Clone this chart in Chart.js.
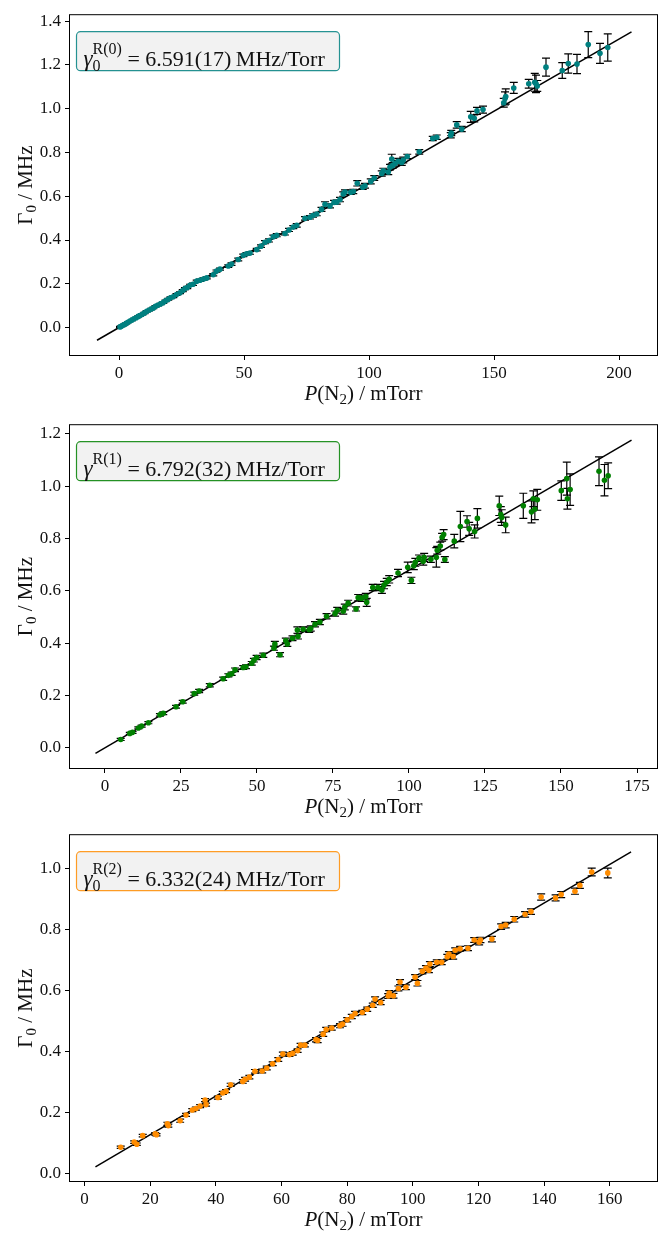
<!DOCTYPE html>
<html>
<head>
<meta charset="utf-8">
<script src="https://cdn.jsdelivr.net/npm/chart.js@4.4.1/dist/chart.umd.min.js"></script>
<style>
  body { margin: 0; background: #fff; }
  #wrap { position: relative; width: 662px; height: 1237px; }
  canvas { position: absolute; left: 0; }
</style>
</head>
<body>
<div id="wrap">
  <canvas id="r0" width="662" height="410" style="top:0"></canvas>
  <canvas id="r1" width="662" height="410" style="top:410px"></canvas>
  <canvas id="r2" width="662" height="417" style="top:820px"></canvas>
</div>
<script>
// R(0) line widths vs N2 pressure
const r0Pressure = [0.4, 0.9, 1.5, 2.2, 2.9, 3.6, 4.4, 5.2, 6.0, 6.9, 7.7, 8.4, 9.3, 10.2, 11.1, 12.0, 12.9, 13.7, 14.6, 15.5,
  16.6, 17.7, 18.6, 19.7, 20.6, 21.7, 23.0, 24.4, 25.5, 26.4, 27.3, 28.4, 29.6, 31.1, 32.4, 33.8, 35.1, 37.7, 39.0, 40.4,
  43.7, 45.0, 47.7, 49.7, 51.0, 52.4, 55.1, 56.8, 58.4, 60.0, 61.7, 63.1, 66.4, 68.0, 69.7, 71.1, 74.4, 76.4, 77.6, 79.1,
  81.0, 82.4, 84.4, 86.0, 87.1, 88.4, 89.7, 90.4, 92.7, 93.7, 95.3, 97.5, 98.4, 100.7, 102.1, 105.1, 105.7, 107.7, 108.4, 109.1,
  109.5, 110.5, 111.7, 113.1, 113.7, 115.3, 120.1, 125.5, 127.1, 132.7, 132.9, 135.1, 137.1, 140.7, 142.1, 143.2, 145.6, 153.9, 154.4, 154.7,
  157.9, 163.9, 166.3, 166.8, 167.3, 170.8, 177.3, 179.7, 183.2, 187.7, 192.4, 195.5];
const r0Width = [0.003, 0.006, 0.010, 0.014, 0.019, 0.024, 0.030, 0.034, 0.040, 0.045, 0.051, 0.055, 0.061, 0.067, 0.074, 0.079, 0.085, 0.089, 0.097, 0.102,
  0.108, 0.114, 0.122, 0.129, 0.136, 0.141, 0.151, 0.159, 0.169, 0.178, 0.183, 0.193, 0.198, 0.212, 0.216, 0.222, 0.227, 0.241, 0.258, 0.267,
  0.281, 0.290, 0.311, 0.330, 0.337, 0.341, 0.356, 0.372, 0.390, 0.398, 0.415, 0.422, 0.430, 0.446, 0.459, 0.467, 0.499, 0.504, 0.512, 0.519,
  0.540, 0.563, 0.556, 0.572, 0.573, 0.585, 0.610, 0.619, 0.618, 0.622, 0.659, 0.641, 0.648, 0.668, 0.683, 0.704, 0.716, 0.711, 0.733, 0.770,
  0.741, 0.751, 0.760, 0.754, 0.766, 0.782, 0.803, 0.864, 0.870, 0.879, 0.889, 0.926, 0.907, 0.963, 0.956, 0.990, 0.996, 1.027, 1.047, 1.056,
  1.095, 1.114, 1.121, 1.114, 1.104, 1.190, 1.175, 1.207, 1.204, 1.293, 1.253, 1.280];
const r0Err = [0.002, 0.002, 0.002, 0.002, 0.002, 0.002, 0.002, 0.002, 0.002, 0.002, 0.002, 0.003, 0.003, 0.003, 0.003, 0.003, 0.003, 0.003, 0.003, 0.003,
  0.003, 0.004, 0.004, 0.004, 0.004, 0.004, 0.004, 0.004, 0.005, 0.005, 0.005, 0.005, 0.005, 0.005, 0.005, 0.005, 0.005, 0.005, 0.005, 0.005,
  0.006, 0.006, 0.006, 0.006, 0.006, 0.006, 0.006, 0.006, 0.007, 0.007, 0.007, 0.007, 0.007, 0.007, 0.007, 0.008, 0.008, 0.008, 0.008, 0.008,
  0.009, 0.012, 0.009, 0.009, 0.009, 0.010, 0.010, 0.010, 0.010, 0.010, 0.012, 0.010, 0.011, 0.011, 0.011, 0.012, 0.012, 0.012, 0.013, 0.022,
  0.013, 0.013, 0.013, 0.013, 0.013, 0.010, 0.010, 0.010, 0.010, 0.012, 0.012, 0.015, 0.012, 0.025, 0.016, 0.016, 0.016, 0.020, 0.030, 0.035,
  0.025, 0.020, 0.041, 0.040, 0.025, 0.041, 0.036, 0.044, 0.044, 0.059, 0.046, 0.062];

// R(1)
const r1Pressure = [5.2, 8.2, 9.1, 11.0, 12.1, 14.3, 18.1, 19.2, 23.4, 25.6, 29.4, 31.0, 34.5, 38.9, 40.6, 41.7, 42.8, 45.5, 46.4, 48.3,
  49.0, 49.9, 52.1, 55.6, 55.9, 57.6, 59.5, 60.0, 61.7, 63.3, 63.5, 65.2, 67.2, 67.7, 69.1, 70.7, 72.9, 75.7, 76.4, 78.4,
  78.9, 80.0, 82.6, 83.3, 84.4, 85.8, 86.1, 88.1, 89.8, 91.1, 91.8, 92.7, 93.5, 96.4, 99.6, 100.8, 101.6, 102.1, 103.3, 104.7,
  105.0, 107.2, 109.0, 109.3, 110.3, 110.9, 111.4, 111.8, 114.9, 116.9, 119.1, 119.8, 121.6, 122.5, 129.7, 130.2, 130.5, 131.8, 137.6, 140.3,
  141.4, 140.9, 142.2, 150.1, 151.9, 152.1, 153.0, 162.5, 164.3, 165.5];
const r1Width = [0.032, 0.055, 0.059, 0.076, 0.083, 0.096, 0.126, 0.132, 0.157, 0.176, 0.207, 0.217, 0.239, 0.264, 0.277, 0.283, 0.298, 0.307, 0.310, 0.323,
  0.335, 0.345, 0.354, 0.381, 0.397, 0.356, 0.410, 0.397, 0.419, 0.450, 0.426, 0.453, 0.451, 0.456, 0.472, 0.481, 0.503, 0.513, 0.526, 0.522,
  0.538, 0.553, 0.531, 0.574, 0.572, 0.578, 0.556, 0.613, 0.613, 0.603, 0.622, 0.634, 0.644, 0.668, 0.690, 0.640, 0.696, 0.709, 0.725, 0.713,
  0.728, 0.721, 0.728, 0.755, 0.771, 0.805, 0.815, 0.720, 0.790, 0.846, 0.865, 0.837, 0.827, 0.877, 0.925, 0.892, 0.880, 0.852, 0.925, 0.902,
  0.912, 0.952, 0.948, 0.983, 1.029, 0.952, 0.987, 1.057, 1.023, 1.040];
const r1Err = [0.004, 0.004, 0.004, 0.004, 0.004, 0.004, 0.005, 0.005, 0.005, 0.005, 0.006, 0.006, 0.006, 0.006, 0.006, 0.006, 0.007, 0.007, 0.007, 0.007,
  0.007, 0.008, 0.008, 0.008, 0.010, 0.008, 0.009, 0.009, 0.009, 0.012, 0.010, 0.009, 0.010, 0.010, 0.010, 0.010, 0.010, 0.010, 0.011, 0.011,
  0.011, 0.011, 0.008, 0.012, 0.012, 0.012, 0.015, 0.012, 0.012, 0.013, 0.014, 0.014, 0.014, 0.014, 0.020, 0.012, 0.015, 0.015, 0.012, 0.015,
  0.015, 0.012, 0.037, 0.015, 0.015, 0.015, 0.019, 0.011, 0.026, 0.058, 0.022, 0.025, 0.025, 0.037, 0.037, 0.030, 0.030, 0.030, 0.048, 0.042,
  0.040, 0.030, 0.040, 0.037, 0.063, 0.040, 0.060, 0.055, 0.060, 0.049];

// R(2)
const r2Pressure = [11.0, 15.1, 15.9, 17.7, 21.5, 21.9, 25.2, 25.5, 29.1, 30.9, 32.8, 33.9, 35.2, 36.7, 37.0, 40.6, 42.1, 43.1, 44.5, 48.2,
  48.9, 50.2, 51.9, 54.1, 55.5, 57.3, 59.0, 60.4, 62.4, 63.4, 64.9, 65.8, 67.1, 70.5, 71.0, 72.7, 73.6, 75.3, 77.8, 78.6,
  80.0, 81.4, 82.4, 84.6, 86.1, 87.8, 88.5, 90.2, 92.5, 92.8, 94.1, 95.6, 96.1, 97.9, 100.7, 101.4, 102.9, 104.0, 104.9, 105.2,
  107.3, 108.8, 110.5, 111.0, 112.3, 112.9, 114.4, 116.8, 118.7, 120.2, 120.6, 124.1, 126.9, 128.3, 130.9, 134.2, 136.0, 139.1, 143.5, 145.2,
  149.4, 150.9, 154.5, 159.4];
const r2Width = [0.085, 0.102, 0.095, 0.123, 0.129, 0.126, 0.162, 0.156, 0.172, 0.191, 0.207, 0.212, 0.220, 0.240, 0.225, 0.248, 0.263, 0.269, 0.290, 0.301,
  0.308, 0.315, 0.334, 0.335, 0.345, 0.359, 0.373, 0.391, 0.389, 0.393, 0.402, 0.420, 0.420, 0.438, 0.435, 0.456, 0.471, 0.476, 0.484, 0.489,
  0.503, 0.514, 0.524, 0.527, 0.538, 0.551, 0.571, 0.560, 0.581, 0.591, 0.582, 0.606, 0.627, 0.610, 0.643, 0.623, 0.662, 0.673, 0.666, 0.686,
  0.692, 0.692, 0.710, 0.719, 0.711, 0.731, 0.736, 0.738, 0.765, 0.758, 0.765, 0.768, 0.809, 0.814, 0.833, 0.849, 0.858, 0.906, 0.903, 0.914,
  0.925, 0.944, 0.988, 0.985];
const r2Err = [0.004, 0.004, 0.004, 0.004, 0.004, 0.004, 0.005, 0.005, 0.005, 0.005, 0.005, 0.005, 0.005, 0.005, 0.005, 0.005, 0.005, 0.005, 0.005, 0.006,
  0.006, 0.006, 0.006, 0.006, 0.006, 0.006, 0.006, 0.006, 0.006, 0.006, 0.006, 0.006, 0.006, 0.007, 0.007, 0.007, 0.007, 0.007, 0.007, 0.007,
  0.007, 0.007, 0.007, 0.007, 0.007, 0.007, 0.007, 0.007, 0.008, 0.008, 0.008, 0.008, 0.008, 0.008, 0.008, 0.009, 0.008, 0.008, 0.008, 0.008,
  0.008, 0.008, 0.008, 0.008, 0.009, 0.008, 0.008, 0.008, 0.008, 0.009, 0.009, 0.009, 0.009, 0.009, 0.009, 0.009, 0.009, 0.010, 0.010, 0.010,
  0.010, 0.010, 0.013, 0.016];

// fitted slopes (MHz/Torr) and the pressure span of each fit line (mTorr)
const r0Slope = 6.591, r1Slope = 6.792, r2Slope = 6.332;
const r0FitRange = [-8.8, 205.0];
const r1FitRange = [-3.1, 173.2];
const r2FitRange = [3.3, 166.5];

// tick labels
const r0XTicks = [0, 50, 100, 150, 200];
const r0YTicks = [0.0, 0.2, 0.4, 0.6, 0.8, 1.0, 1.2, 1.4];
const r1XTicks = [0, 25, 50, 75, 100, 125, 150, 175];
const r1YTicks = [0.0, 0.2, 0.4, 0.6, 0.8, 1.0, 1.2];
const r2XTicks = [0, 20, 40, 60, 80, 100, 120, 140, 160];
const r2YTicks = [0.0, 0.2, 0.4, 0.6, 0.8, 1.0];

const SERIF = '"Liberation Serif", "DejaVu Serif", serif';

// draws a run of text pieces; a piece with `stack` puts sub- and superscript at the same x
function drawRich(ctx, parts, x, y, measureOnly) {
    let cx = x;
    parts.forEach(p => {
        if (p.stack) {
            let w = 0;
            p.stack.forEach(s => {
                ctx.font = s.font;
                if (!measureOnly) ctx.fillText(s.text, cx, y + s.dy);
                w = Math.max(w, ctx.measureText(s.text).width);
            });
            cx += w;
        } else {
            ctx.font = p.font;
            if (!measureOnly) ctx.fillText(p.text, cx, y + (p.dy || 0));
            cx += ctx.measureText(p.text).width;
        }
    });
    return cx - x;
}

const errorBars = {
    id: 'errorBars',
    beforeDatasetDraw(chart, args) {
        const ds = chart.data.datasets[args.index];
        if (!ds.errors) return;
        const { ctx, scales: { x, y } } = chart;
        ctx.save();
        ctx.strokeStyle = '#000';
        ctx.lineWidth = 1.2;
        ds.data.forEach((p, i) => {
            const px = x.getPixelForValue(p.x);
            const top = y.getPixelForValue(p.y + ds.errors[i]);
            const bot = y.getPixelForValue(p.y - ds.errors[i]);
            ctx.beginPath();
            ctx.moveTo(px, top); ctx.lineTo(px, bot);
            ctx.moveTo(px - 4, top); ctx.lineTo(px + 4, top);
            ctx.moveTo(px - 4, bot); ctx.lineTo(px + 4, bot);
            ctx.stroke();
        });
        ctx.restore();
    }
};

// frame, axis titles and the slope box
function decorations(color, boxParts) {
    return {
        id: 'decorations',
        afterDatasetsDraw(chart) {
            const { ctx, chartArea: a } = chart;
            ctx.save();
            ctx.strokeStyle = '#000';
            ctx.lineWidth = 1;
            ctx.strokeRect(a.left + 0.5, a.top + 0.5, a.right - a.left - 1, a.bottom - a.top - 1);

            // slope box
            const bx = a.left + 7.5, by = a.top + 17.5, bw = 263, bh = 39;
            ctx.beginPath();
            ctx.roundRect(bx, by, bw, bh, 4);
            ctx.fillStyle = '#f2f2f2';
            ctx.fill();
            ctx.globalAlpha = 0.85;
            ctx.strokeStyle = color;
            ctx.lineWidth = 1.2;
            ctx.stroke();
            ctx.globalAlpha = 1;
            ctx.fillStyle = '#111';
            ctx.textBaseline = 'alphabetic';
            ctx.textAlign = 'left';
            drawRich(ctx, boxParts, bx + 7, by + 34);

            // x title: P(N2) / mTorr
            const xParts = [
                { text: 'P', font: 'italic 21px ' + SERIF },
                { text: '(N', font: '21px ' + SERIF },
                { text: '2', font: '15px ' + SERIF, dy: 4 },
                { text: ') / mTorr', font: '21px ' + SERIF }
            ];
            const xw = drawRich(ctx, xParts, 0, 0, true);
            drawRich(ctx, xParts, (a.left + a.right) / 2 - xw / 2, a.bottom + 44);

            // y title: Γ0 / MHz
            const yParts = [
                { text: '\u0393', font: '21px ' + SERIF },
                { text: '0', font: '15px ' + SERIF, dy: 4 },
                { text: ' / MHz', font: '21px ' + SERIF }
            ];
            const yw = drawRich(ctx, yParts, 0, 0, true);
            ctx.translate(32, (a.top + a.bottom) / 2);
            ctx.rotate(-Math.PI / 2);
            drawRich(ctx, yParts, -yw / 2, 0);
            ctx.restore();
        }
    };
}

function buildPanel(id, cfg) {
    const points = cfg.pressure.map((p, i) => ({ x: p, y: cfg.width[i] }));
    const fit = cfg.fitRange.map(p => ({ x: p, y: cfg.slope / 1000 * p }));
    const tickFont = { family: SERIF, size: 17 };

    new Chart(document.getElementById(id), {
        type: 'scatter',
        data: {
            datasets: [
                { type: 'line', data: fit, borderColor: '#000', borderWidth: 1.5, pointRadius: 0, order: 2 },
                { data: points, errors: cfg.err, backgroundColor: cfg.color, borderWidth: 0, pointRadius: 2.8, order: 1 }
            ]
        },
        options: {
            responsive: false,
            animation: false,
            events: [],
            layout: { padding: { top: cfg.padTop, right: 4, left: 0, bottom: 0 } },
            plugins: { legend: { display: false }, tooltip: { enabled: false } },
            scales: {
                x: {
                    type: 'linear', min: cfg.xRange[0], max: cfg.xRange[1],
                    afterBuildTicks: s => { s.ticks = cfg.xTicks.map(v => ({ value: v })); },
                    afterFit: s => { s.height = cfg.xAxisH; },
                    grid: { drawOnChartArea: false, tickLength: 4, color: '#000' },
                    border: { display: false },
                    ticks: { font: tickFont, color: '#111', padding: 3, maxRotation: 0, callback: v => String(v) }
                },
                y: {
                    type: 'linear', min: cfg.yRange[0], max: cfg.yRange[1],
                    afterBuildTicks: s => { s.ticks = cfg.yTicks.map(v => ({ value: v })); },
                    afterFit: s => { s.width = 69; },
                    grid: { drawOnChartArea: false, tickLength: 4, color: '#000' },
                    border: { display: false },
                    ticks: { font: tickFont, color: '#111', padding: 4, callback: v => v.toFixed(1) }
                }
            }
        },
        plugins: [errorBars, decorations(cfg.color, cfg.box)]
    });
}

function boxText(sub, sup, value) {
    const parts = [{ text: '\u03b3', font: 'italic 23px ' + SERIF }];
    const stack = [{ text: sup, font: '16px ' + SERIF, dy: -12 }];
    if (sub) stack.push({ text: sub, font: '16px ' + SERIF, dy: 5 });
    parts.push({ stack: stack });
    parts.push({ text: ' = ' + value + '\u2009MHz/Torr', font: '22px ' + SERIF });
    return parts;
}

document.addEventListener("DOMContentLoaded", function () {
    buildPanel('r0', {
        pressure: r0Pressure, width: r0Width, err: r0Err, slope: r0Slope, fitRange: r0FitRange,
        xTicks: r0XTicks, yTicks: r0YTicks, xRange: [-20, 215.6], yRange: [-0.13, 1.432],
        color: '#008080', padTop: 4, xAxisH: 54, box: boxText('0', 'R(0)', '6.591(17)')
    });
    buildPanel('r1', {
        pressure: r1Pressure, width: r1Width, err: r1Err, slope: r1Slope, fitRange: r1FitRange,
        xTicks: r1XTicks, yTicks: r1YTicks, xRange: [-11.8, 181.9], yRange: [-0.081, 1.237],
        color: '#008000', padTop: 7, xAxisH: 51, box: boxText(null, 'R(1)', '6.792(32)')
    });
    buildPanel('r2', {
        pressure: r2Pressure, width: r2Width, err: r2Err, slope: r2Slope, fitRange: r2FitRange,
        xTicks: r2XTicks, yTicks: r2YTicks, xRange: [-4.76, 174.7], yRange: [-0.029, 1.112],
        color: '#ff8c00', padTop: 10, xAxisH: 55, box: boxText('0', 'R(2)', '6.332(24)')
    });
});
</script>
</body>
</html>
